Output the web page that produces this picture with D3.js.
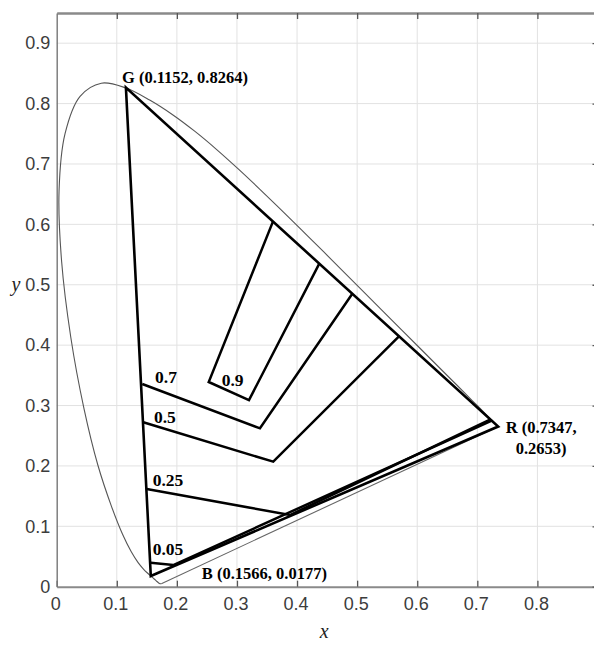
<!DOCTYPE html>
<html><head><meta charset="utf-8">
<script src="https://cdn.jsdelivr.net/npm/d3@7/dist/d3.min.js"></script>
<style>body{margin:0;background:#fff}svg{display:block}</style>
</head><body><svg id="c" width="594" height="646"></svg>
<script>
// Spectral locus (380–700 nm, 5 nm steps)
const locusX = [0.1741,0.1740,0.1738,0.1736,0.1733,0.1730,0.1726,0.1721,0.1714,0.1703,0.1689,0.1669,0.1644,0.1611,0.1566,0.1510,0.1440,0.1355,0.1241,0.1096,0.0913,0.0687,0.0454,0.0235,0.0082,0.0039,0.0139,0.0389,0.0743,0.1142,0.1547,0.1929,0.2296,0.2658,0.3016,0.3373,0.3731,0.4087,0.4441,0.4788,0.5125,0.5448,0.5752,0.6029,0.6270,0.6482,0.6658,0.6801,0.6915,0.7006,0.7079,0.7140,0.7190,0.7230,0.7260,0.7283,0.7300,0.7311,0.7320,0.7327,0.7334,0.7340,0.7344,0.7346,0.7347];
const locusY = [0.0050,0.0050,0.0049,0.0049,0.0048,0.0048,0.0048,0.0048,0.0051,0.0058,0.0069,0.0086,0.0109,0.0138,0.0177,0.0227,0.0297,0.0399,0.0578,0.0868,0.1327,0.2007,0.2950,0.4127,0.5384,0.6548,0.7502,0.8120,0.8338,0.8262,0.8059,0.7816,0.7543,0.7243,0.6923,0.6589,0.6245,0.5896,0.5547,0.5202,0.4866,0.4544,0.4242,0.3965,0.3725,0.3514,0.3340,0.3197,0.3083,0.2993,0.2920,0.2859,0.2809,0.2770,0.2740,0.2717,0.2700,0.2689,0.2680,0.2673,0.2666,0.2660,0.2656,0.2654,0.2653];

// Primaries
const primaryNames = ["G", "B", "R"];
const primaryX = [0.1152, 0.1566, 0.7347];
const primaryY = [0.8264, 0.0177, 0.2653];

// Contour lines
const contourLevels = ["0.05", "0.25", "0.5", "0.7", "0.9"];
const contourX = [
  [0.1564, 0.1940, 0.7240],
  [0.1498, 0.3882, 0.7220],
  [0.1441, 0.3604, 0.5700],
  [0.1424, 0.3383, 0.4920],
  [0.3600, 0.2530, 0.3200, 0.4370]
];
const contourY = [
  [0.0397, 0.0359, 0.2750],
  [0.1618, 0.1187, 0.2770],
  [0.2723, 0.2070, 0.4150],
  [0.3356, 0.2623, 0.4850],
  [0.6050, 0.3390, 0.3090, 0.5350]
];
// contour label anchors (data units)
const labelX = [0.1597, 0.1597, 0.1619, 0.1636, 0.2745];
const labelY = [0.0525, 0.1668, 0.2711, 0.3374, 0.3324];

const xTicks = [0, 0.1, 0.2, 0.3, 0.4, 0.5, 0.6, 0.7, 0.8];
const xGrid = [0.1, 0.2, 0.3, 0.4, 0.5, 0.6, 0.7, 0.8, 0.9];
const yTicks = [0, 0.1, 0.2, 0.3, 0.4, 0.5, 0.6, 0.7, 0.8, 0.9];

(function () {
const svg = d3.select("#c");
const L = 56.7, R = 597.5, T = 13, B = 586.7;
const x = d3.scaleLinear().domain([0, 0.9]).range([L, R]);
const y = d3.scaleLinear().domain([0, 0.95]).range([B, T]);
const fmt = d => d === 0 ? "0" : d.toFixed(1);

// grid
const g = svg.append("g");
g.selectAll("line.gx").data(xGrid).join("line")
  .attr("x1", d => x(d)).attr("x2", d => x(d)).attr("y1", T).attr("y2", B)
  .attr("stroke", "#e2e2e2").attr("stroke-width", 1);
g.selectAll("line.gy").data(yTicks.filter(d => d > 0)).join("line")
  .attr("y1", d => y(d)).attr("y2", d => y(d)).attr("x1", L).attr("x2", R)
  .attr("stroke", "#e2e2e2").attr("stroke-width", 1);

// spectral locus + purple line
const pts = locusX.map((v, i) => [v, locusY[i]]);
svg.append("path").attr("d", d3.line().x(d => x(d[0])).y(d => y(d[1])).curve(d3.curveCatmullRom)(pts))
  .attr("fill", "none").attr("stroke", "#555").attr("stroke-width", 1.1);
svg.append("path").attr("d", d3.line().x(d => x(d[0])).y(d => y(d[1]))([pts[0], pts[pts.length - 1]]))
  .attr("fill", "none").attr("stroke", "#666").attr("stroke-width", 1.1);

// triangle
const tri = primaryX.map((v, i) => [v, primaryY[i]]);
svg.append("path").attr("d", d3.line().x(d => x(d[0])).y(d => y(d[1]))(tri) + "Z")
  .attr("fill", "none").attr("stroke", "#000").attr("stroke-width", 2.6)
  .attr("stroke-linejoin", "miter");

// contours
const lin = d3.line().x(d => x(d[0])).y(d => y(d[1]));
contourX.forEach((xs, k) => {
  const p = xs.map((v, i) => [v, contourY[k][i]]);
  svg.append("path").attr("d", lin(p)).attr("fill", "none")
    .attr("stroke", "#000").attr("stroke-width", 2.5).attr("stroke-linejoin", "miter");
});
svg.selectAll("text.lev").data(contourLevels).join("text")
  .attr("x", (d, i) => x(labelX[i])).attr("y", (d, i) => y(labelY[i]))
  .attr("font-family", "Liberation Serif, Times New Roman, serif")
  .attr("font-weight", "bold").attr("font-size", 17.5).attr("fill", "#000")
  .text(d => d);

// primary labels
const pf = "Liberation Serif, Times New Roman, serif";
svg.append("text").attr("x", x(primaryX[0]) - 4).attr("y", y(primaryY[0]) - 4.5)
  .attr("font-family", pf).attr("font-weight", "bold").attr("font-size", 16.5)
  .text(`${primaryNames[0]} (${primaryX[0].toFixed(4)}, ${primaryY[0].toFixed(4)})`);
svg.append("text").attr("x", x(primaryX[1]) + 51).attr("y", y(primaryY[1]) + 2.5)
  .attr("font-family", pf).attr("font-weight", "bold").attr("font-size", 16.5)
  .text(`${primaryNames[1]} (${primaryX[1].toFixed(4)}, ${primaryY[1].toFixed(4)})`);
const rt = svg.append("text").attr("font-family", pf).attr("font-weight", "bold")
  .attr("font-size", 16.5).attr("text-anchor", "middle");
rt.append("tspan").attr("x", x(primaryX[2]) + 43).attr("y", y(primaryY[2]) + 6.5)
  .text(`${primaryNames[2]} (${primaryX[2].toFixed(4)},`);
rt.append("tspan").attr("x", x(primaryX[2]) + 43).attr("y", y(primaryY[2]) + 27.5)
  .text(`${primaryY[2].toFixed(4)})`);

// axes
const axCol = "#8a8a8a";
const axB = svg.append("g").attr("transform", `translate(0,${B})`)
  .call(d3.axisBottom(x).tickValues(xTicks).tickFormat(fmt).tickSizeInner(-6).tickSizeOuter(0).tickPadding(11));
const axT = svg.append("g").attr("transform", `translate(0,${T})`)
  .call(d3.axisTop(x).tickValues(xGrid).tickFormat("").tickSizeInner(-6).tickSizeOuter(0));
const axL = svg.append("g").attr("transform", `translate(${L},0)`)
  .call(d3.axisLeft(y).tickValues(yTicks).tickFormat(fmt).tickSizeInner(0).tickSizeOuter(0).tickPadding(6.5));
const axR = svg.append("g").attr("transform", `translate(${R},0)`)
  .call(d3.axisRight(y).tickValues(yTicks).tickFormat("").tickSizeInner(-5).tickSizeOuter(0));
[axB, axT, axL, axR].forEach(a => {
  a.select(".domain").attr("stroke", axCol).attr("stroke-width", 2);
  a.selectAll(".tick line").attr("stroke", "#555").attr("stroke-width", 1.3);
  a.selectAll("text").attr("font-family", "Liberation Sans, Arial, Helvetica, sans-serif")
    .attr("font-size", 18).attr("fill", "#3c3c3c");
});
axL.select(".domain").attr("stroke-width", 1.4).attr("stroke", "#777");
axT.select(".domain").attr("stroke-width", 2.6);
axB.selectAll("text").attr("dx", -1.5);

// axis titles
svg.append("text").attr("x", (L + R) / 2 - 3).attr("y", 638)
  .attr("text-anchor", "middle").attr("font-family", pf).attr("font-style", "italic")
  .attr("font-size", 20).attr("fill", "#222").text("x");
svg.append("text").attr("x", 16).attr("y", y(0.5) + 6)
  .attr("text-anchor", "middle").attr("font-family", pf).attr("font-style", "italic")
  .attr("font-size", 20).attr("fill", "#222").text("y");
})();
</script></body></html>
